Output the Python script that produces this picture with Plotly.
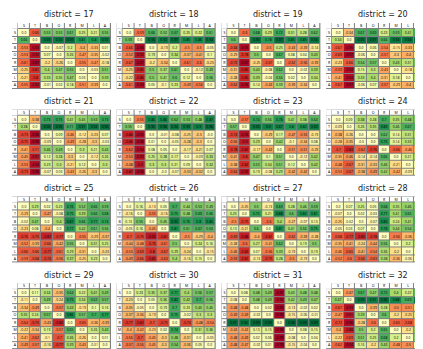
import plotly.graph_objects as go

labels = ["S", "T", "B", "O", "R", "M", "L", "A"]
districts = [17, 18, 19, 20, 21, 22, 23, 24, 25, 26, 27, 28, 29, 30, 31, 32]

# 每个区的 8x8 矩阵 (行 = labels, 列 = labels)
d17 = [
    [0.0, -0.66, 0.53, 0.53, 0.61, 0.25, 0.21, 0.55],
    [0.66, 0.0, 0.93, 0.92, 0.97, 0.81, 0.8, 0.92],
    [-0.53, -0.93, 0.0, -0.07, 0.2, -0.4, -0.33, 0.01],
    [-0.53, -0.92, 0.07, 0.0, 0.26, -0.47, -0.35, -0.02],
    [-0.61, -0.97, -0.2, -0.26, 0.0, -0.55, -0.47, -0.18],
    [-0.25, -0.81, 0.4, 0.47, 0.55, 0.0, -0.03, 0.51],
    [-0.21, -0.8, 0.33, 0.35, 0.47, 0.03, 0.0, 0.39],
    [-0.55, -0.92, -0.01, 0.02, 0.18, -0.51, -0.39, 0.0],
]
d18 = [
    [0.0, -0.59, 0.66, 0.52, 0.67, 0.25, 0.22, 0.61],
    [0.59, 0.0, 0.96, 0.92, 0.97, 0.85, 0.86, 0.94],
    [-0.66, -0.96, 0.0, -0.19, 0.2, -0.5, -0.5, -0.05],
    [-0.52, -0.92, 0.19, 0.0, 0.34, -0.37, -0.41, 0.1],
    [-0.67, -0.97, -0.2, -0.34, 0.0, -0.61, -0.6, -0.23],
    [-0.25, -0.85, 0.5, 0.37, 0.61, 0.0, -0.12, 0.49],
    [-0.22, -0.86, 0.5, 0.41, 0.6, 0.12, 0.0, 0.56],
    [-0.61, -0.94, 0.05, -0.1, 0.23, -0.49, -0.56, 0.0],
]
d19 = [
    [0.0, -0.6, 0.68, 0.29, 0.72, 0.31, 0.28, 0.62],
    [0.6, 0.0, 0.95, 0.78, 0.97, 0.85, 0.85, 0.94],
    [-0.68, -0.95, 0.0, -0.5, 0.25, -0.43, -0.39, -0.14],
    [-0.29, -0.78, 0.5, 0.0, 0.67, 0.08, 0.04, 0.43],
    [-0.72, -0.97, -0.25, -0.67, 0.0, -0.62, -0.56, -0.39],
    [-0.31, -0.85, 0.43, -0.08, 0.62, 0.0, -0.02, 0.39],
    [-0.28, -0.85, 0.39, -0.04, 0.56, 0.02, 0.0, 0.34],
    [-0.62, -0.94, 0.14, -0.43, 0.39, -0.39, -0.34, 0.0],
]
d20 = [
    [0.0, -0.34, 0.67, 0.69, 0.23, 0.59, 0.41, 0.67],
    [0.34, 0.0, 0.95, 0.97, 0.66, 0.94, 0.94, 0.97],
    [-0.67, -0.95, 0.0, 0.06, -0.54, -0.15, -0.33, 0.06],
    [-0.69, -0.97, -0.06, 0.0, -0.57, -0.3, -0.4, -0.07],
    [-0.23, -0.66, 0.54, 0.57, 0.0, 0.43, 0.31, 0.57],
    [-0.59, -0.94, 0.15, 0.3, -0.43, 0.0, -0.18, 0.29],
    [-0.41, -0.94, 0.33, 0.4, -0.31, 0.18, 0.0, 0.4],
    [-0.67, -0.97, -0.06, 0.07, -0.57, -0.29, -0.4, 0.0],
]
d21 = [
    [0.0, -0.38, 0.73, 0.75, 0.41, 0.45, 0.53, 0.73],
    [0.38, 0.0, 0.96, 0.96, 0.71, 0.91, 0.94, 0.96],
    [-0.73, -0.96, 0.0, 0.09, -0.46, -0.12, -0.23, 0.07],
    [-0.75, -0.96, -0.09, 0.0, -0.49, -0.28, -0.3, -0.03],
    [-0.41, -0.71, 0.46, 0.49, 0.0, 0.3, 0.21, 0.43],
    [-0.45, -0.91, 0.12, 0.28, -0.3, 0.0, -0.12, 0.26],
    [-0.53, -0.94, 0.23, 0.3, -0.21, 0.12, 0.0, 0.3],
    [-0.73, -0.96, -0.07, 0.03, -0.43, -0.26, -0.3, 0.0],
]
d22 = [
    [0.0, -0.55, 0.86, 0.86, 0.62, 0.53, 0.48, 0.87],
    [0.55, 0.0, 0.95, 0.96, 0.94, 0.93, 0.9, 0.96],
    [-0.86, -0.95, 0.0, -0.01, -0.08, -0.25, -0.3, -0.0],
    [-0.86, -0.96, 0.01, 0.0, -0.05, -0.28, -0.3, 0.0],
    [-0.62, -0.94, 0.08, 0.05, 0.0, -0.17, -0.21, 0.07],
    [-0.53, -0.93, 0.25, 0.28, 0.17, 0.0, -0.09, 0.33],
    [-0.48, -0.9, 0.3, 0.3, 0.21, 0.09, 0.0, 0.32],
    [-0.87, -0.96, 0.0, -0.0, -0.07, -0.33, -0.32, 0.0],
]
d23 = [
    [0.0, -0.57, 0.74, 0.56, 0.78, 0.41, 0.38, 0.64],
    [0.57, 0.0, 0.93, 0.9, 0.87, 0.8, 0.82, 0.92],
    [-0.74, -0.93, 0.0, -0.29, 0.17, -0.47, -0.53, -0.19],
    [-0.56, -0.9, 0.29, 0.0, 0.42, -0.1, -0.34, 0.08],
    [-0.78, -0.87, -0.17, -0.42, 0.0, -0.51, -0.51, -0.29],
    [-0.41, -0.8, 0.47, 0.1, 0.51, 0.0, -0.12, 0.42],
    [-0.38, -0.82, 0.53, 0.34, 0.51, 0.12, 0.0, 0.42],
    [-0.64, -0.92, 0.19, -0.08, 0.29, -0.42, -0.42, 0.0],
]
d24 = [
    [0.0, 0.09, 0.38, 0.28, 0.7, 0.35, 0.48, 0.53],
    [-0.09, 0.0, 0.26, 0.35, 0.83, 0.46, 0.67, 0.67],
    [-0.38, -0.26, 0.0, 0.0, 0.62, 0.14, 0.31, 0.38],
    [-0.28, -0.35, -0.0, 0.0, 0.76, 0.14, 0.33, 0.49],
    [-0.7, -0.83, -0.62, -0.76, 0.0, -0.66, -0.46, -0.42],
    [-0.35, -0.46, -0.14, -0.14, 0.66, 0.0, 0.21, 0.42],
    [-0.48, -0.67, -0.31, -0.33, 0.46, -0.21, 0.0, 0.09],
    [-0.53, -0.67, -0.38, -0.49, 0.42, -0.42, -0.09, 0.0],
]
d25 = [
    [0.0, 0.29, 0.02, 0.23, 0.76, 0.52, 0.66, 0.59],
    [-0.29, 0.0, -0.47, -0.08, 0.75, 0.39, 0.66, 0.68],
    [-0.02, 0.47, 0.0, 0.4, 0.87, 0.66, 0.77, 0.74],
    [-0.23, 0.08, -0.4, 0.0, 0.77, 0.42, 0.61, 0.56],
    [-0.76, -0.75, -0.87, -0.77, 0.0, -0.55, -0.29, -0.37],
    [-0.52, -0.39, -0.66, -0.42, 0.55, 0.0, 0.31, 0.25],
    [-0.66, -0.66, -0.77, -0.61, 0.29, -0.31, 0.0, -0.23],
    [-0.59, -0.68, -0.74, -0.56, 0.37, -0.25, 0.23, 0.0],
]
d26 = [
    [0.0, 0.16, -0.13, 0.05, 0.7, 0.44, 0.53, 0.49],
    [-0.16, 0.0, -0.55, -0.16, 0.75, 0.48, 0.69, 0.66],
    [0.13, 0.55, 0.0, 0.45, 0.92, 0.76, 0.8, 0.85],
    [-0.05, 0.16, -0.45, 0.0, 0.81, 0.61, 0.67, 0.63],
    [-0.7, -0.75, -0.92, -0.81, 0.0, -0.5, -0.29, -0.4],
    [-0.44, -0.48, -0.76, -0.61, 0.5, 0.0, 0.24, 0.16],
    [-0.53, -0.69, -0.8, -0.67, 0.29, -0.24, 0.0, -0.15],
    [-0.49, -0.66, -0.85, -0.63, 0.4, -0.16, 0.15, 0.0],
]
d27 = [
    [0.0, -0.25, 0.5, -0.13, 0.69, 0.28, 0.46, 0.59],
    [0.25, 0.0, 0.75, 0.21, 0.88, 0.6, 0.82, 0.81],
    [-0.5, -0.75, 0.0, -0.6, 0.4, -0.27, -0.07, 0.13],
    [0.13, -0.21, 0.6, 0.0, 0.81, 0.41, 0.56, 0.75],
    [-0.69, -0.88, -0.4, -0.81, 0.0, -0.62, -0.39, -0.28],
    [-0.28, -0.6, 0.27, -0.41, 0.62, 0.0, 0.19, 0.5],
    [-0.46, -0.82, 0.07, -0.56, 0.39, -0.19, 0.0, 0.19],
    [-0.59, -0.81, -0.13, -0.75, 0.28, -0.5, -0.19, 0.0],
]
d28 = [
    [0.0, 0.07, 0.25, 0.05, 0.68, 0.35, 0.46, 0.52],
    [-0.07, 0.0, 0.02, -0.03, 0.77, 0.41, 0.65, 0.6],
    [-0.25, -0.02, 0.0, -0.07, 0.85, 0.24, 0.41, 0.66],
    [-0.05, 0.03, 0.07, 0.0, 0.78, 0.44, 0.54, 0.63],
    [-0.68, -0.77, -0.85, -0.78, 0.0, -0.56, -0.36, -0.38],
    [-0.35, -0.41, -0.24, -0.44, 0.56, 0.0, 0.2, 0.36],
    [-0.46, -0.65, -0.41, -0.54, 0.36, -0.2, 0.0, 0.06],
    [-0.52, -0.6, -0.66, -0.63, 0.38, -0.36, -0.06, 0.0],
]
d29 = [
    [0.0, 0.11, 0.34, -0.35, 0.64, 0.22, 0.41, 0.49],
    [-0.11, 0.0, 0.49, -0.24, 0.75, 0.34, 0.62, 0.57],
    [-0.34, -0.49, 0.0, -0.57, 0.43, -0.19, 0.1, 0.16],
    [0.35, 0.24, 0.57, 0.0, 0.86, 0.57, 0.7, 0.77],
    [-0.64, -0.75, -0.43, -0.86, 0.0, -0.65, -0.36, -0.39],
    [-0.22, -0.34, 0.19, -0.57, 0.65, 0.0, 0.26, 0.43],
    [-0.41, -0.62, -0.1, -0.7, 0.36, -0.26, 0.0, 0.01],
    [-0.49, -0.57, -0.16, -0.77, 0.39, -0.43, -0.01, 0.0],
]
d30 = [
    [0.0, 0.23, 0.35, 0.37, 0.77, 0.4, 0.56, 0.57],
    [-0.23, 0.0, 0.05, 0.36, 0.82, 0.42, 0.7, 0.56],
    [-0.35, -0.05, 0.0, 0.19, 0.7, 0.23, 0.45, 0.45],
    [-0.37, -0.36, -0.19, 0.0, 0.75, -0.02, 0.3, 0.3],
    [-0.77, -0.82, -0.7, -0.75, 0.0, -0.74, -0.48, -0.54],
    [-0.4, -0.42, -0.23, 0.02, 0.74, 0.0, 0.31, 0.36],
    [-0.56, -0.7, -0.45, -0.3, 0.48, -0.31, 0.0, -0.05],
    [-0.57, -0.56, -0.45, -0.3, 0.54, -0.36, 0.05, 0.0],
]
d31 = [
    [0.0, 0.08, 0.48, 0.49, -0.97, 0.43, 0.48, 0.48],
    [-0.08, 0.0, 0.48, 0.49, -0.94, 0.42, 0.49, 0.47],
    [-0.48, -0.48, 0.0, 0.02, -0.99, -0.13, -0.02, 0.02],
    [-0.49, -0.49, -0.02, 0.0, -0.99, -0.15, -0.06, -0.01],
    [0.97, 0.94, 0.99, 0.99, 0.0, 0.98, 0.99, 0.99],
    [-0.43, -0.42, 0.13, 0.15, -0.98, 0.0, 0.08, 0.15],
    [-0.48, -0.49, 0.02, 0.06, -0.99, -0.08, 0.0, 0.04],
    [-0.48, -0.47, -0.02, 0.01, -0.99, -0.15, -0.04, 0.0],
]
d32 = [
    [0.0, -0.47, 0.67, 0.47, 0.72, 0.4, 0.22, 0.62],
    [0.47, 0.0, 0.93, 0.91, 0.96, 0.88, 0.69, 0.94],
    [-0.67, -0.93, 0.0, -0.39, 0.28, -0.5, -0.51, -0.16],
    [-0.47, -0.91, 0.39, 0.0, 0.6, -0.2, -0.25, 0.2],
    [-0.72, -0.96, -0.28, -0.6, 0.0, -0.65, -0.68, -0.43],
    [-0.4, -0.88, 0.5, 0.2, 0.65, 0.0, -0.2, 0.48],
    [-0.22, -0.69, 0.51, 0.25, 0.68, 0.2, 0.0, 0.5],
    [-0.62, -0.94, 0.16, -0.2, 0.43, -0.48, -0.5, 0.0],
]
matrices = [d17, d18, d19, d20, d21, d22, d23, d24,
            d25, d26, d27, d28, d29, d30, d31, d32]

W, H = 423, 349
white = [[0, "white"], [1, "white"]]
pos = list(range(8))

fig = go.Figure()
annotations = []
shapes = []

for k, (dist, m) in enumerate(zip(districts, matrices)):
    r, c = divmod(k, 4)
    n = "" if k == 0 else str(k + 1)
    xa, ya = "x" + n, "y" + n

    # 面板的像素位置
    left = 4 + 104.7 * c
    top = 15 + 86.7 * r
    w, h = 99, 66

    # 数据单元格
    fig.add_trace(go.Heatmap(
        z=m, x=pos, y=pos, text=[[str(v) for v in row] for row in m],
        texttemplate="%{text}", textfont=dict(size=3.4, color="black"),
        colorscale="RdYlGn", zmin=-1, zmax=1, showscale=False,
        xgap=1, ygap=1, hoverinfo="skip", xaxis=xa, yaxis=ya))
    # 列标题
    fig.add_trace(go.Heatmap(
        z=[[0] * 8], x=pos, y=[-1.3, -0.5], text=[labels],
        texttemplate="%{text}", textfont=dict(size=3.6, color="black"),
        colorscale=white, showscale=False, xgap=1, ygap=1,
        hoverinfo="skip", xaxis=xa, yaxis=ya))
    # 行标题
    fig.add_trace(go.Heatmap(
        z=[[0]] * 8, x=[-1.0, -0.5], y=pos, text=[[lab] for lab in labels],
        texttemplate="%{text}", textfont=dict(size=3.6, color="black"),
        colorscale=white, showscale=False, xgap=1, ygap=1,
        hoverinfo="skip", xaxis=xa, yaxis=ya))

    fig.layout["xaxis" + n] = dict(
        domain=[left / W, (left + w) / W], range=[-1.0, 7.5],
        visible=False, fixedrange=True, anchor=ya)
    fig.layout["yaxis" + n] = dict(
        domain=[1 - (top + h) / H, 1 - top / H], range=[7.5, -1.3],
        visible=False, fixedrange=True, anchor=xa)

    # 左上角空白
    shapes.append(dict(type="rect", xref=xa, yref=ya, x0=-1.2, x1=-0.53,
                       y0=-1.5, y1=-0.53, fillcolor="white",
                       line=dict(width=0), layer="above"))

    annotations.append(dict(
        text=f"district = {dist}", xref="paper", yref="paper",
        x=(left + 57) / W, y=1 - (top - 8) / H, xanchor="center",
        yanchor="middle", showarrow=False,
        font=dict(family="DejaVu Sans", size=8, color="#222")))

fig.update_layout(
    width=W, height=H, margin=dict(l=0, r=0, t=0, b=0),
    paper_bgcolor="white", plot_bgcolor="#808080",
    annotations=annotations, shapes=shapes, showlegend=False)

fig.write_html("out.html")
